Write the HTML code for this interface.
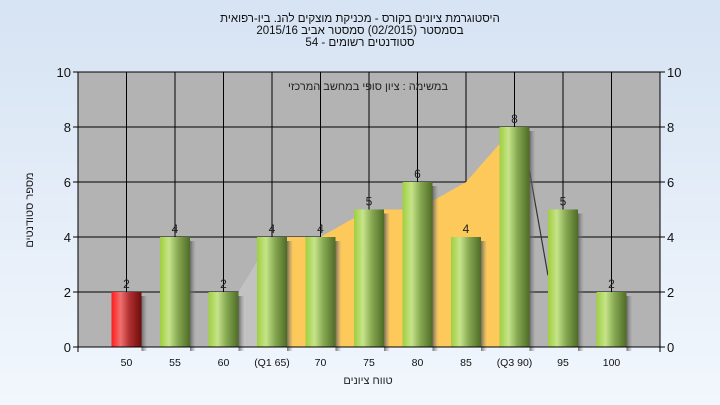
<!DOCTYPE html>
<html><head><meta charset="utf-8">
<style>
html,body{margin:0;padding:0;width:720px;height:405px;overflow:hidden}
body{background:linear-gradient(#d6e3f3,#f2f7fd);font-family:"Liberation Sans","Noto Sans CJK SC",sans-serif}
svg text{font-family:"Liberation Sans","Noto Sans CJK SC",sans-serif}
</style></head><body>
<svg id="chart" width="720" height="405" xmlns="http://www.w3.org/2000/svg">
<defs>
<linearGradient id="gGreen" x1="0" x2="1" y1="0" y2="0">
<stop offset="0" stop-color="#9fcf3f"/><stop offset="0.3" stop-color="#c6e48a"/><stop offset="0.6" stop-color="#86a851"/><stop offset="1" stop-color="#4f6b26"/></linearGradient>
<linearGradient id="gRed" x1="0" x2="1" y1="0" y2="0">
<stop offset="0" stop-color="#ff1a1a"/><stop offset="0.3" stop-color="#f07070"/><stop offset="0.6" stop-color="#b03030"/><stop offset="1" stop-color="#6e0c0c"/></linearGradient>
<linearGradient id="gShadow" x1="0" x2="1"><stop offset="0" stop-color="#555" stop-opacity="0.8"/><stop offset="1" stop-color="#888" stop-opacity="0"/></linearGradient>
</defs>
<text x="360" y="22" text-anchor="middle" font-size="11.5" fill="#111">היסטוגרמת ציונים בקורס - מכניקת מוצקים להנ. ביו-רפואית</text>
<text x="360" y="34" text-anchor="middle" font-size="11.5" fill="#111">בסמסטר  (02/2015)  סמסטר אביב 2015/16</text>
<text x="360" y="46" text-anchor="middle" font-size="11.5" fill="#111">סטודנטים רשומים - 54</text>
<rect x="78" y="72" width="582" height="275" fill="#b3b3b3"/>
<g id="grid"></g>
<g id="areas"></g>
<g id="bars"></g>
<g id="axes"></g>
<text x="368" y="90" text-anchor="middle" font-size="11" fill="#222">במשימה : ציון סופי במחשב המרכזי</text>
<text transform="translate(33,210) rotate(-90)" text-anchor="middle" font-size="11" fill="#222">מספר סטודנטים</text>
<text x="368" y="384" text-anchor="middle" font-size="11" fill="#222">טווח ציונים</text>
</svg>
<script>
const categories=["50","55","60","(Q1 65)","70","75","80","85","(Q3 90)","95","100"];
const counts=[2,4,2,4,4,5,6,4,8,5,2];
const failFlags=[1,0,0,0,0,0,0,0,0,0,0];
const quartileArea=[4,4,5,5,6,8];
const yTicks=[0,2,4,6,8,10];
const NS="http://www.w3.org/2000/svg";
const L=78,R=660,T=72,B=347,yMax=10;
const step=(R-L)/(categories.length+1);
const xs=i=>L+(i+1)*step;
const ys=v=>B-(v/yMax)*(B-T);
function mk(tag,attrs,parent){const e=document.createElementNS(NS,tag);for(const k in attrs)e.setAttribute(k,attrs[k]);parent.appendChild(e);return e;}
const grid=document.getElementById('grid'),areas=document.getElementById('areas'),bars=document.getElementById('bars'),axes=document.getElementById('axes');
yTicks.forEach(t=>{const l=mk('line',{x1:L,x2:R,y1:ys(t),y2:ys(t),stroke:'#000','stroke-width':1},grid);


[[L-5,L,L-7,'end'],[R,R+5,R+7,'start']].forEach(a=>{mk('line',{x1:a[0],x2:a[1],y1:ys(t),y2:ys(t),stroke:'#000'},axes);
const tx=mk('text',{x:a[2],y:ys(t)+5,'text-anchor':a[3],'font-size':13,fill:'#111'},axes);tx.textContent=t;

});});
categories.forEach((c,i)=>{const l=mk('line',{x1:xs(i),x2:xs(i),y1:T,y2:B,stroke:'#000'},grid);


const tx=mk('text',{x:xs(i),y:B+19,'text-anchor':'middle','font-size':10.5,fill:'#111'},axes);tx.textContent=c;

});
mk('line',{x1:L,x2:L,y1:T,y2:B+5,stroke:'#000'},axes);
mk('line',{x1:R,x2:R,y1:T,y2:B+5,stroke:'#000'},axes);
mk('line',{x1:L,x2:R,y1:B,y2:B,stroke:'#000'},axes);
// light gray lead-in area between 60 and Q1
const g=mk('polygon',{points:`${xs(2)+15},${B} ${xs(2)+15},${ys(counts[2])} ${xs(3)},${ys(counts[3])} ${xs(3)},${B}`,fill:'#c2c2c2'},areas);


// quartile area
let pts=`${xs(3)},${B} `;quartileArea.forEach((v,k)=>{pts+=`${xs(3+k)},${ys(v)} `;});pts+=`${xs(8)},${B}`;
const qa=mk('polygon',{points:pts,fill:'#fdc95a'},areas);


const tl=mk('line',{x1:xs(8)+15,y1:ys(counts[8]-1.6),x2:xs(9)-15,y2:ys(2.6),stroke:'#333','stroke-width':1.2},areas);


counts.forEach((v,i)=>{const x=xs(i)-15,y=ys(v),h=B-y;
const sh=mk('rect',{x:x+30,y:y+4,width:6,height:h,fill:'url(#gShadow)'},bars);


const r=mk('rect',{x:x,y:y,width:30,height:h,fill:failFlags[i]?'url(#gRed)':'url(#gGreen)'},bars);


const t=mk('text',{x:xs(i),y:y-4,'text-anchor':'middle','font-size':12,fill:'#222'},bars);t.textContent=v;

});
</script>
</body></html>
